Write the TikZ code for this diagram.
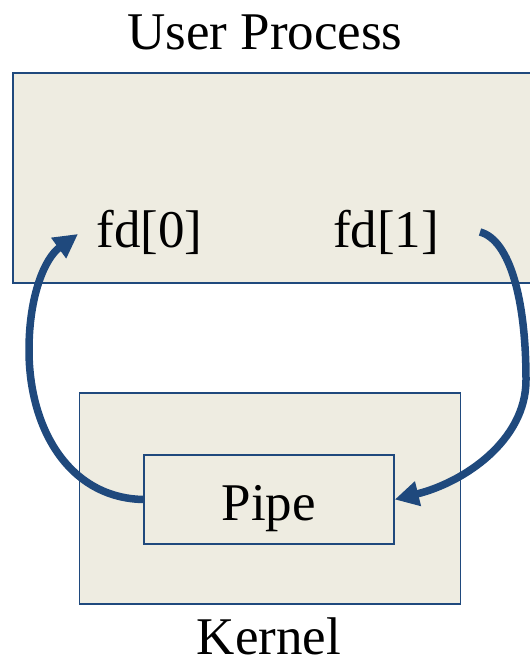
\documentclass[tikz,border=0pt]{standalone}
\usepackage{fontspec}
\setmainfont{Liberation Serif}
\usetikzlibrary{arrows.meta}
\definecolor{boxfill}{HTML}{EEECE1}
\definecolor{navy}{HTML}{1F497D}
\begin{document}
\begin{tikzpicture}[x=1bp,y=-1bp,
  box/.style={draw=navy, line width=1.5bp, fill=boxfill, inner sep=0pt},
  lbl/.style={font=\fontsize{53bp}{60bp}\selectfont, anchor=base, inner sep=0pt},
  flow/.style={draw=navy, line width=7.5bp, -{Triangle[length=24bp,width=24bp]}}]
\useasboundingbox (0,0) rectangle (530,662);
\clip (0,0) rectangle (530,662);
\node[box, minimum width=530bp, minimum height=210bp] (user) at (278,178) {};
\node[box, minimum width=381bp, minimum height=211bp] (kernel) at (270,498.5) {};
\node[box, minimum width=250bp, minimum height=89bp] (pipe) at (269,499.5) {};
\node[lbl] (title) at (265,50) {User Process};
\node[lbl] (fd0) at (149.5,247) {fd[0]};
\node[lbl] (fd1) at (386,247) {fd[1]};
\node[lbl] (pipetxt) at (268.7,520) {Pipe};
\node[lbl] (ktxt) at (269,654) {Kernel};
\coordinate (in0) at (78,234);
\coordinate (out1) at (480,232);
\draw[flow] (pipe.west) .. controls (70,498) and (29,430) .. (29,350) .. controls (29,295) and (45,258) .. (in0);
\draw[flow] (out1) .. controls (510,240) and (526,300) .. (526,380) .. controls (526,440) and (465,482) .. (pipe.east);
\end{tikzpicture}
\end{document}
